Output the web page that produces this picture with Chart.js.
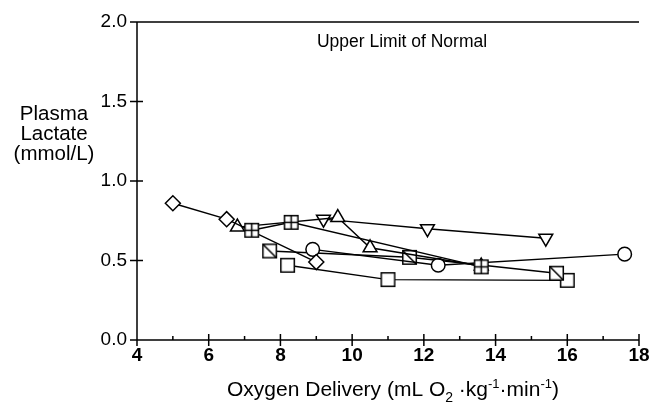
<!DOCTYPE html>
<html>
<head>
<meta charset="utf-8">
<script src="https://cdn.jsdelivr.net/npm/chart.js@4/dist/chart.umd.min.js"></script>
<style>
html,body{margin:0;padding:0;background:#fff;}
#wrap{width:659px;height:409px;position:relative;}
</style>
</head>
<body>
<div id="wrap"><canvas id="c" width="659" height="409"></canvas></div>
<script>
// ---- data ----
const xTicks = [4, 6, 8, 10, 12, 14, 16, 18];
const yTicks = [0.0, 0.5, 1.0, 1.5, 2.0];
const upperLimit = 2.0;

const diamondX = [5.0, 6.5, 9.0];
const diamondY = [0.86, 0.76, 0.49];
const triangleX = [6.8, 9.6, 10.5, 13.6];
const triangleY = [0.71, 0.77, 0.58, 0.465];
const squarePlusX = [7.2, 8.3, 13.6];
const squarePlusY = [0.69, 0.74, 0.46];
const invTriangleX = [9.2, 12.1, 15.4];
const invTriangleY = [0.76, 0.70, 0.64];
const circleX = [8.9, 12.4, 17.6];
const circleY = [0.57, 0.47, 0.54];
const squareDiagX = [7.7, 11.6, 15.7];
const squareDiagY = [0.56, 0.52, 0.42];
const squareX = [8.2, 11.0, 16.0];
const squareY = [0.47, 0.38, 0.375];

const FONT = '"Liberation Sans", Arial, Helvetica, sans-serif';

function pts(xs, ys){ return xs.map((x,i)=>({x:x, y:ys[i]})); }

function markerCanvas(kind){
  const s = 17, c = document.createElement('canvas');
  c.width = s; c.height = s;
  const g = c.getContext('2d');
  g.fillStyle = '#fff'; g.strokeStyle = '#000'; g.lineWidth = 1.5;
  const a = 1.75, b = s - 1.75;
  g.fillRect(a, a, b - a, b - a);
  g.strokeRect(a, a, b - a, b - a);
  g.beginPath();
  if (kind === 'plus') {
    g.moveTo(s/2, a); g.lineTo(s/2, b);
    g.moveTo(a, s/2); g.lineTo(b, s/2);
  } else if (kind === 'diag') {
    g.moveTo(a, a); g.lineTo(b, b);
  }
  g.stroke();
  return c;
}

const base = {
  showLine: true,
  borderColor: '#000',
  borderWidth: 1.4,
  pointBackgroundColor: '#fff',
  pointBorderColor: '#000',
  pointBorderWidth: 1.5,
  pointRadius: 7,
  pointHoverRadius: 7,
  tension: 0,
  clip: false
};

// dataset 0 is drawn last (on top)
const datasets = [
  Object.assign({}, base, {label:'squarePlus', data: pts(squarePlusX, squarePlusY), pointStyle: markerCanvas('plus')}),
  Object.assign({}, base, {label:'diamond', data: pts(diamondX, diamondY), pointStyle:'rectRot', pointRadius: 7.5}),
  Object.assign({}, base, {label:'triangle', data: pts(triangleX, triangleY), pointStyle:'triangle', pointRadius: 8}),
  Object.assign({}, base, {label:'invtriangle', data: pts(invTriangleX, invTriangleY), pointStyle:'triangle', pointRotation:180, pointRadius: 8}),
  Object.assign({}, base, {label:'circle', data: pts(circleX, circleY), pointStyle:'circle', pointRadius: 6.8}),
  Object.assign({}, base, {label:'squareDiag', data: pts(squareDiagX, squareDiagY), pointStyle: markerCanvas('diag')}),
  Object.assign({}, base, {label:'square', data: pts(squareX, squareY), pointStyle: markerCanvas('none')})
];

const axesPlugin = {
  id: 'axesPlugin',
  beforeDatasetsDraw(chart){
    const {ctx, scales:{x, y}} = chart;
    const L = x.getPixelForValue(xTicks[0]);
    const R = x.getPixelForValue(xTicks[xTicks.length-1]);
    const B = y.getPixelForValue(yTicks[0]);
    const T = y.getPixelForValue(yTicks[yTicks.length-1]);
    ctx.save();
    ctx.strokeStyle = '#000';
    ctx.lineWidth = 1.5;
    ctx.beginPath();
    ctx.moveTo(L, T); ctx.lineTo(L, B + 6);
    ctx.moveTo(L - 7, B); ctx.lineTo(R, B);
    const U = y.getPixelForValue(upperLimit);
    ctx.moveTo(L - 7, U); ctx.lineTo(R, U);
    yTicks.forEach(v => { const p = y.getPixelForValue(v); ctx.moveTo(L - 7, p); ctx.lineTo(L + 6, p); });
    xTicks.forEach(v => { const p = x.getPixelForValue(v); ctx.moveTo(p, B - 6); ctx.lineTo(p, B + 6); });
    for (let i = 0; i < xTicks.length - 1; i++) {
      const p = x.getPixelForValue((xTicks[i] + xTicks[i+1]) / 2);
      ctx.moveTo(p, B - 4); ctx.lineTo(p, B);
    }
    ctx.stroke();

    ctx.fillStyle = '#000';
    ctx.textAlign = 'center';
    ctx.textBaseline = 'alphabetic';
    ctx.font = '17.5px ' + FONT;
    ctx.fillText('Upper Limit of Normal', 402, 47);

    ctx.font = '20.5px ' + FONT;
    ctx.fillText('Plasma', 54, 120);
    ctx.fillText('Lactate', 54, 140);
    ctx.fillText('(mmol/L)', 54, 160);

    const parts = [
      {t:'Oxygen Delivery (mL O', f:21, dy:0},
      {t:'2', f:14, dy:6},
      {t:' \u00B7kg', f:21, dy:0},
      {t:'-1', f:13, dy:-8},
      {t:'\u00B7min', f:21, dy:0},
      {t:'-1', f:13, dy:-8},
      {t:')', f:21, dy:0}
    ];
    let total = 0;
    parts.forEach(p => { ctx.font = p.f + 'px ' + FONT; p.w = ctx.measureText(p.t).width; total += p.w; });
    let cx = 393 - total / 2;
    ctx.textAlign = 'left';
    parts.forEach(p => { ctx.font = p.f + 'px ' + FONT; ctx.fillText(p.t, cx, 396 + p.dy); cx += p.w; });
    ctx.restore();
  }
};

new Chart(document.getElementById('c'), {
  type: 'scatter',
  data: { datasets: datasets },
  options: {
    responsive: false,
    animation: false,
    events: [],
    layout: { padding: { top: 22, right: 20, left: 0, bottom: 0 } },
    plugins: { legend: { display: false }, tooltip: { enabled: false }, title: { display: false } },
    scales: {
      x: {
        type: 'linear', min: xTicks[0], max: xTicks[xTicks.length-1],
        afterBuildTicks: s => { s.ticks = xTicks.map(v => ({value: v})); },
        ticks: { color: '#000', font: { family: FONT, size: 19, weight: 'bold' }, padding: 4, maxRotation: 0, autoSkip: false },
        grid: { display: false, drawTicks: false },
        border: { display: false },
        afterFit: s => { s.height = 69; }
      },
      y: {
        type: 'linear', min: yTicks[0], max: yTicks[yTicks.length-1],
        afterBuildTicks: s => { s.ticks = yTicks.map(v => ({value: v})); },
        ticks: { color: '#000', font: { family: FONT, size: 19 }, padding: 10, callback: v => Number(v).toFixed(1) },
        grid: { display: false, drawTicks: false },
        border: { display: false },
        afterFit: s => { s.width = 137; }
      }
    }
  },
  plugins: [axesPlugin]
});
</script>
</body>
</html>
